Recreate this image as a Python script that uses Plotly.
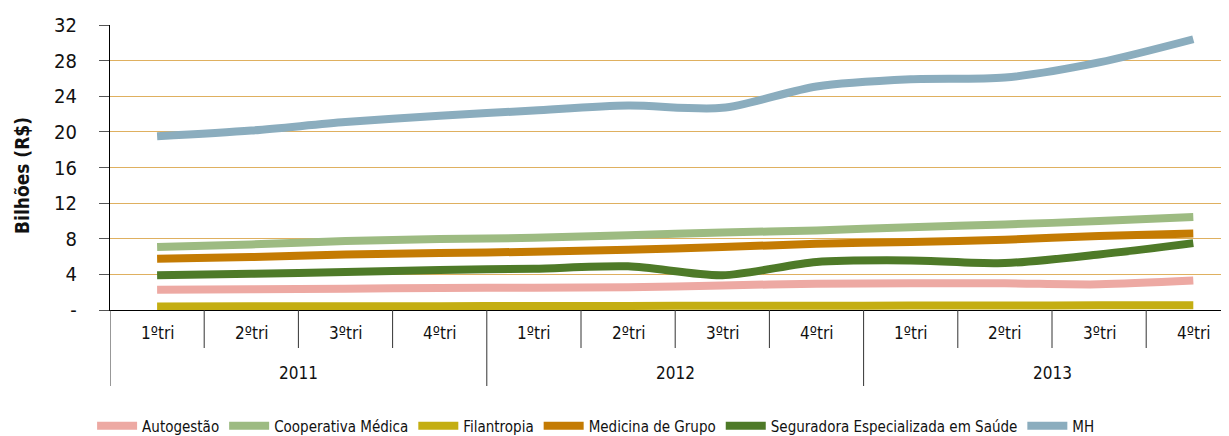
import plotly.graph_objects as go

quarters = ["1ºtri", "2ºtri", "3ºtri", "4ºtri"] * 3
years = ["2011", "2012", "2013"]

autogestao = [2.28, 2.32, 2.40, 2.47, 2.50, 2.55, 2.76, 2.95, 2.99, 2.99, 2.88, 3.30]
cooperativa = [7.06, 7.36, 7.74, 7.96, 8.10, 8.40, 8.70, 8.94, 9.30, 9.60, 9.98, 10.43]
filantropia = [0.40, 0.41, 0.42, 0.43, 0.45, 0.46, 0.47, 0.48, 0.50, 0.51, 0.52, 0.52]
medicina = [5.75, 5.94, 6.24, 6.39, 6.54, 6.76, 7.06, 7.44, 7.63, 7.90, 8.30, 8.60]
seguradora = [3.89, 4.07, 4.26, 4.49, 4.64, 4.90, 3.90, 5.40, 5.57, 5.27, 6.24, 7.51]
mh = [19.5, 20.15, 21.1, 21.8, 22.4, 22.95, 22.7, 25.1, 25.9, 26.1, 27.8, 30.4]

series = [
    ("Autogestão", autogestao, "#EDA9A3"),
    ("Cooperativa Médica", cooperativa, "#9DBB82"),
    ("Filantropia", filantropia, "#C4AE12"),
    ("Medicina de Grupo", medicina, "#C47B03"),
    ("Seguradora Especializada em Saúde", seguradora, "#4E7A28"),
    ("MH", mh, "#8BADBE"),
]

FONT = "DejaVu Sans Condensed, Liberation Sans, sans-serif"
x = list(range(len(quarters)))

fig = go.Figure()
for name, vals, col in series:
    fig.add_trace(go.Scatter(
        x=x, y=vals, name=name, mode="lines",
        line=dict(color=col, width=8, shape="spline", smoothing=0.8),
    ))

yt = [0, 4, 8, 12, 16, 20, 24, 28, 32]
ytext = ["-"] + [str(v) for v in yt[1:]]

# page body has an 8px default margin: work in screenshot pixels and shift
OFF = 8
IMG_W, IMG_H = 1229, 436
W, H = IMG_W - OFF, IMG_H - OFF
PL, PT, PB = 110, 25, 310          # plot area in screenshot pixels
L, T = PL - OFF, PT - OFF
B = H - (PB - OFF)
plot_w = W - L
plot_h = PB - PT
cat_w = 94.2
x_end = -0.5 + plot_w / cat_w

fig.update_layout(
    width=W, height=H,
    margin=dict(l=L, r=0, t=T, b=B, pad=0, autoexpand=False),
    paper_bgcolor="white", plot_bgcolor="white",
    font=dict(family=FONT, color="#111111"),
    showlegend=True,
    legend=dict(
        orientation="h", x=-0.016, xanchor="left",
        y=(PB - 426) / plot_h, yanchor="middle",
        font=dict(size=15, family=FONT, color="#111111"),
        itemwidth=40, tracegroupgap=0,
    ),
    xaxis=dict(
        range=[-0.5, x_end], showgrid=False, zeroline=False,
        showticklabels=False, ticks="",
        showline=True, linecolor="black", linewidth=1.3,
    ),
    yaxis=dict(
        range=[0, 32], tickvals=yt, ticktext=ytext,
        showgrid=True, gridcolor="#DFB060", gridwidth=1.3,
        zeroline=False, showline=True, linecolor="black", linewidth=1.3,
        ticks="outside", ticklen=10, tickcolor="#555555",
        tickfont=dict(size=20, family=FONT, color="#111111"),
        ticklabelstandoff=18,
    ),
)

def py(pix):
    return (PB - pix) / plot_h

shapes = []
for k in range(13):
    bx = k - 0.5
    if bx > x_end:
        continue
    is_year = (k % 4 == 0)
    y1 = py(386) if is_year else py(348)
    shapes.append(dict(type="line", xref="x", yref="paper", x0=bx, x1=bx,
                       y0=0, y1=y1, line=dict(color="#333333", width=1)))
fig.update_layout(shapes=shapes)

annotations = []
for i, q in enumerate(quarters):
    annotations.append(dict(x=i, y=py(333), xref="x", yref="paper", text=q,
                            showarrow=False, xanchor="center", yanchor="middle",
                            font=dict(size=17, family=FONT, color="#111111")))
for j, yr in enumerate(years):
    annotations.append(dict(x=j * 4 + 1.5, y=py(373), xref="x", yref="paper", text=yr,
                            showarrow=False, xanchor="center", yanchor="middle",
                            font=dict(size=17, family=FONT, color="#111111")))
annotations.append(dict(x=(22 - PL) / plot_w, y=py(176), xref="paper", yref="paper",
                        text="<b>Bilhões (R$)</b>", textangle=-90, showarrow=False,
                        xanchor="center", yanchor="middle",
                        font=dict(size=19, family=FONT, color="#111111")))
fig.update_layout(annotations=annotations)

fig.write_html("out.html")
